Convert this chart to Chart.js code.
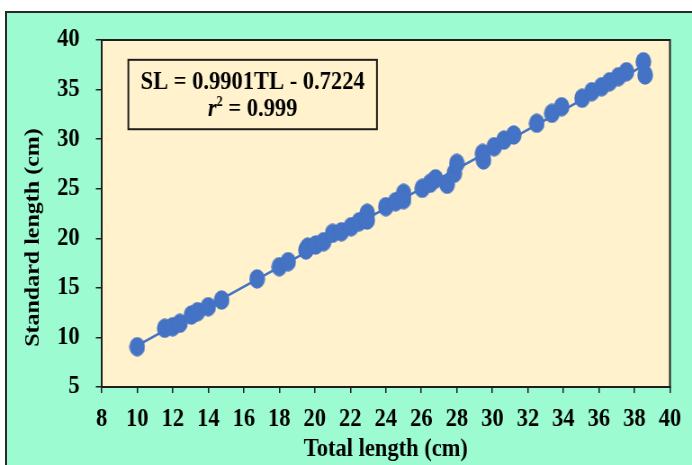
<!DOCTYPE html>
<html>
<head>
<meta charset="utf-8">
<script src="https://cdn.jsdelivr.net/npm/chart.js@4/dist/chart.umd.min.js"></script>
<style>
  html, body { margin: 0; padding: 0; background: #ffffff; overflow: hidden; }
  #wrap { position: relative; width: 692px; height: 465px; }
  #frame {
    position: absolute; left: 5px; top: 11px; width: 720px; height: 480px;
    background: #9dfbd1; border: 2px solid #2a2a2a; box-sizing: border-box;
  }
  /* the drawing surface is wider than its box, giving the narrow serif look */
  #chart { position: absolute; left: 0; top: 0; width: 692px !important; height: 465px !important; }
</style>
</head>
<body>
<div id="wrap">
  <div id="frame"></div>
  <canvas id="chart" width="769" height="465" style="width:692px;height:465px"></canvas>
</div>
<script>
// Total length (cm) of each specimen
const totalLength = [
  10.0, 11.55, 12.0, 12.4, 13.05, 13.4, 14.0, 14.75, 16.75, 18.0,
  18.5, 19.5, 19.6, 20.05, 20.5, 21.0, 21.5, 22.05, 22.5, 22.95,
  22.95, 24.0, 24.55, 25.0, 25.0, 26.05, 26.5, 26.8, 27.45, 27.85,
  28.0, 29.45, 29.5, 30.1, 30.65, 31.2, 32.5, 33.35, 33.9, 35.05,
  35.6, 36.15, 36.6, 37.1, 37.55, 38.5, 38.6
];
// Standard length (cm) of the same specimens
const standardLength = [
  9.06, 10.92, 11.08, 11.42, 12.26, 12.6, 13.1, 13.77, 15.9, 17.13,
  17.64, 18.82, 19.1, 19.32, 19.66, 20.5, 20.66, 21.17, 21.67, 22.52,
  21.84, 23.19, 23.69, 24.54, 23.9, 25.04, 25.55, 26.0, 25.45, 26.55,
  27.56, 28.57, 27.9, 29.24, 29.9, 30.42, 31.6, 32.6, 33.27, 34.12,
  34.79, 35.29, 35.79, 36.3, 36.8, 37.81, 36.47
];
// Fitted regression SL = a·TL + b
const slope = 0.9901;
const intercept = -0.7224;
const rSquared = 0.999;
const fitRange = [10.0, 38.6];

const xTicks = [8, 40, 2];   // min, max, step
const yTicks = [5, 40, 5];
const xTitle = 'Total length (cm)';
const yTitle = 'Standard length (cm)';

const BLUE = '#4472c4';
const INK = '#1e1e1e';
const FONT = '"Liberation Serif", "Times New Roman", serif';

function ovalMarker(w, h, color) {
  const c = document.createElement('canvas');
  c.width = w; c.height = h;
  const g = c.getContext('2d');
  g.fillStyle = color;
  g.beginPath();
  g.ellipse(w / 2, h / 2, w / 2 - 0.3, h / 2 - 0.3, 0, 0, Math.PI * 2);
  g.fill();
  return c;
}

const points = totalLength.map((x, i) => ({ x, y: standardLength[i] }));
const fitLine = fitRange.map(x => ({ x, y: slope * x + intercept }));

const plotFrame = {
  id: 'plotFrame',
  beforeDatasetsDraw(chart) {
    const a = chart.chartArea, ctx = chart.ctx;
    ctx.save();
    ctx.fillStyle = '#fff2cc';
    ctx.fillRect(a.left, a.top, a.right - a.left, a.bottom - a.top);
    ctx.restore();
  },
  afterDraw(chart) {
    const a = chart.chartArea, ctx = chart.ctx;
    const xs = chart.scales.x, ys = chart.scales.y;
    ctx.save();
    ctx.strokeStyle = INK;
    ctx.lineWidth = 2;
    ctx.strokeRect(a.left, a.top, a.right - a.left, a.bottom - a.top);

    // vertical axis title
    ctx.save();
    ctx.translate(36.5, (a.top + a.bottom) / 2 + 24);
    ctx.rotate(-Math.PI / 2);
    ctx.fillStyle = '#000';
    ctx.textAlign = 'center';
    ctx.textBaseline = 'middle';
    ctx.font = 'bold 24px ' + FONT;
    ctx.fillText(yTitle, 0, 0);
    ctx.restore();

    // equation box
    const bx0 = xs.getPixelForValue(9.5), bx1 = xs.getPixelForValue(23.5);
    const by0 = ys.getPixelForValue(38), by1 = ys.getPixelForValue(31);
    ctx.fillStyle = '#fff2cc';
    ctx.fillRect(bx0, by0, bx1 - bx0, by1 - by0);
    ctx.strokeRect(bx0, by0, bx1 - bx0, by1 - by0);

    const cx = (bx0 + bx1) / 2;
    ctx.fillStyle = '#000';
    ctx.textBaseline = 'alphabetic';
    ctx.textAlign = 'center';
    ctx.font = 'bold 25px ' + FONT;
    const eq = 'SL = ' + slope.toFixed(4) + 'TL - ' + Math.abs(intercept).toFixed(4);
    ctx.fillText(eq, cx, by0 + 29);

    // r² line, built from pieces
    ctx.textAlign = 'left';
    const pR = 'r', pSup = '2', pRest = ' = ' + rSquared.toFixed(3);
    ctx.font = 'italic bold 25px ' + FONT;
    const wR = ctx.measureText(pR).width;
    ctx.font = 'bold 14px ' + FONT;
    const wS = ctx.measureText(pSup).width;
    ctx.font = 'bold 25px ' + FONT;
    const wRest = ctx.measureText(pRest).width;
    let x = cx - (wR + wS + wRest) / 2;
    const base = by0 + 56;
    ctx.font = 'italic bold 25px ' + FONT;
    ctx.fillText(pR, x, base); x += wR;
    ctx.font = 'bold 14px ' + FONT;
    ctx.fillText(pSup, x, base - 10); x += wS;
    ctx.font = 'bold 25px ' + FONT;
    ctx.fillText(pRest, x, base);
    ctx.restore();
  }
};

new Chart(document.getElementById('chart'), {
  type: 'scatter',
  data: {
    datasets: [
      {
        label: 'SL vs TL',
        data: points,
        pointStyle: ovalMarker(18, 20, BLUE),
        pointRadius: 10,
        pointHoverRadius: 10,
        backgroundColor: BLUE,
        borderWidth: 0
      },
      {
        label: 'Fit',
        data: fitLine,
        showLine: true,
        borderColor: BLUE,
        borderWidth: 2.5,
        pointRadius: 0,
        pointHoverRadius: 0,
        fill: false
      }
    ]
  },
  options: {
    responsive: false,
    animation: false,
    devicePixelRatio: 1,
    layout: { padding: { top: 40, right: 22.9, left: 0, bottom: 0 } },
    plugins: { legend: { display: false }, tooltip: { enabled: false } },
    scales: {
      x: {
        type: 'linear',
        min: xTicks[0], max: xTicks[1],
        afterFit(s) { s.height = 78; },
        ticks: {
          stepSize: xTicks[2],
          color: '#000',
          font: { family: FONT, size: 25, weight: 'bold' },
          padding: 12,
          maxRotation: 0,
          autoSkip: false
        },
        grid: { drawOnChartArea: false, drawTicks: true, tickLength: 6, color: INK, lineWidth: 1.5 },
        border: { display: true, color: INK, width: 2 },
        title: {
          display: true,
          text: xTitle,
          color: '#000',
          font: { family: FONT, size: 25, weight: 'bold' },
          padding: { top: 8, bottom: 0 }
        }
      },
      y: {
        type: 'linear',
        min: yTicks[0], max: yTicks[1],
        afterFit(s) { s.width = 113; },
        ticks: {
          stepSize: yTicks[2],
          color: '#000',
          font: { family: FONT, size: 25, weight: 'bold' },
          padding: 18
        },
        grid: { drawOnChartArea: false, drawTicks: true, tickLength: 6.5, color: INK, lineWidth: 1.5 },
        border: { display: true, color: INK, width: 2 },
        title: { display: false }
      }
    }
  },
  plugins: [plotFrame]
});
</script>
</body>
</html>
